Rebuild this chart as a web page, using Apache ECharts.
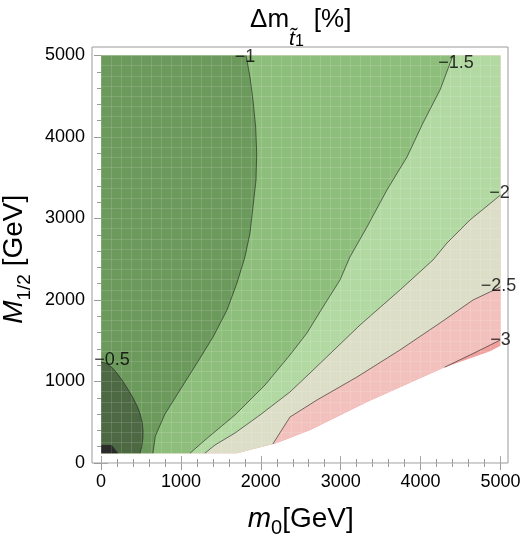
<!DOCTYPE html>
<html>
<head>
<meta charset="utf-8">
<script src="https://cdn.jsdelivr.net/npm/echarts@6/dist/echarts.min.js"></script>
<style>
  html, body { margin: 0; padding: 0; background: #fff; }
  #main { width: 521px; height: 536px; }
</style>
</head>
<body>
<div id="main"></div>
<script>
// edge of the allowed region (the lower right corner has no points)
const edgeX = [0, 1700, 2200, 2620, 3330, 4280, 4870, 5000];
const edgeY = [120, 120, 245, 405, 748, 1166, 1370, 1440];

// contour lines, each one runs from the frame edge down to the region edge
const c3X = [5000, 4650, 4300];
const c3Y = [1510, 1340, 1175];
const c25X = [5000, 4656, 4243, 3742, 3204, 2703, 2365, 2150];
const c25Y = [2160, 2000, 1718, 1387, 1055, 773, 564, 232];
const c2X = [5000, 4618, 4330, 4155, 3742, 3242, 2616, 2365, 1990, 1677, 1427, 1300];
const c2Y = [3288, 2982, 2699, 2491, 2123, 1693, 1104, 871, 589, 368, 221, 120];
const c15X = [4405, 4243, 4030, 3830, 3579, 3329, 3116, 2991, 2778, 2578, 2365, 2053, 1677, 1302, 1114];
const c15Y = [5000, 4577, 4172, 3755, 3350, 2896, 2528, 2245, 1914, 1595, 1325, 957, 589, 282, 120];
const c1X = [1815, 1865, 1902, 1936, 1949, 1940, 1902, 1865, 1802, 1702, 1577, 1402, 1202, 989, 800, 680, 650];
const c1Y = [5000, 4736, 4454, 4123, 3804, 3472, 3141, 2822, 2528, 2209, 1877, 1546, 1227, 896, 600, 330, 120];
const c05X = [0, 60, 138, 210, 275, 340, 400, 451, 490, 515, 526, 524, 510, 490];
const c05Y = [1239, 1225, 1172, 1090, 1000, 900, 800, 700, 600, 500, 400, 300, 200, 120];
const c0X = [0, 134, 216];
const c0Y = [221, 221, 120];

const levelNames = ['−3', '−2.5', '−2', '−1.5', '−1', '−0.5', ''];
const contoursX = [c3X, c25X, c2X, c15X, c1X, c05X, c0X];
const contoursY = [c3Y, c25Y, c2Y, c15Y, c1Y, c05Y, c0Y];
// fill of the band below each contour, plus the top band
const bandColors = ['#f1a19d', '#f2c1bd', '#dcdec7', '#b3d9a3', '#8ebe7b', '#6c995c', '#4d6944', '#2b2b2b'];

const X_MAX = 5000, Y_MAX = 5000;

function zip(xs, ys) { return xs.map((x, i) => [x, ys[i]]); }

// polygon of the part of the region that lies above/left of a contour
function bandAbove(xs, ys) {
  const pts = [[0, Y_MAX]];
  if (xs[0] === X_MAX) pts.push([X_MAX, Y_MAX]);
  zip(xs, ys).forEach(p => pts.push(p));
  const endX = xs[xs.length - 1];
  for (let i = edgeX.length - 1; i >= 0; i--) {
    if (edgeX[i] < endX) pts.push([edgeX[i], edgeY[i]]);
  }
  pts.push([0, edgeY[0]]);
  return pts;
}

const whole = [[0, Y_MAX], [X_MAX, Y_MAX]];
for (let i = edgeX.length - 1; i >= 0; i--) whole.push([edgeX[i], edgeY[i]]);
const polygons = [whole].concat(contoursX.map((xs, k) => bandAbove(xs, contoursY[k])));

const FONT = 'Liberation Sans';
const tickStyle = { color: '#9a9a9a', width: 1 };
const meshStyle = { color: 'rgba(255,255,255,0.13)', width: 1 };

const chart = echarts.init(document.getElementById('main'), null, { renderer: 'canvas' });

const axisCommon = {
  min: 0, max: 5000, interval: 1000,
  axisLine: { show: false },
  axisTick: { show: true, inside: true, length: 7, lineStyle: tickStyle },
  minorTick: { show: true, splitNumber: 5, length: 4, lineStyle: tickStyle },
  splitLine: { show: false },
  axisLabel: { show: false }
};

// faint plot mesh drawn over the fills
const meshAxis = {
  type: 'value', gridIndex: 0, min: 0, max: 5000, interval: 125,
  z: 3, silent: true,
  axisLine: { show: false }, axisTick: { show: false }, axisLabel: { show: false },
  splitLine: { show: true, lineStyle: meshStyle }
};

const lineSeries = contoursX.slice(0, 6).map((xs, k) => ({
  type: 'line',
  data: zip(xs, contoursY[k]),
  showSymbol: false,
  symbol: 'none',
  lineStyle: { color: 'rgba(30,30,30,0.6)', width: 1 },
  z: 5,
  silent: true
}));

const labelShift = [[0, 0], [-2, -1], [-1, -2], [3, 8], [-1, 2], [11, -2]];
const labelSeries = {
  type: 'scatter',
  symbolSize: 0,
  z: 6,
  silent: true,
  data: contoursX.slice(0, 6).map((xs, k) => ({
    value: [xs[0], contoursY[k][0]],
    label: { formatter: levelNames[k], offset: labelShift[k] }
  })),
  label: {
    show: true, position: 'inside',
    color: '#000', fontSize: 18, fontFamily: FONT
  }
};

const plainNum = v => String(v);

chart.setOption({
  backgroundColor: '#fff',
  animation: false,
  grid: [
    { left: 101, right: 20.5, top: 55.5, bottom: 73, show: false, outerBoundsMode: 'none', containLabel: false },
    { left: 92, right: 13, top: 47, bottom: 73, show: true, borderColor: '#9a9a9a', borderWidth: 1, backgroundColor: 'transparent', outerBoundsMode: 'none' }
  ],
  xAxis: [
    Object.assign({}, axisCommon, {
      type: 'value', gridIndex: 0, position: 'bottom',
      axisLabel: { show: true, color: '#000', fontSize: 18, fontFamily: FONT, margin: 10, formatter: plainNum },
      name: '{i|m}{s|0}{a|[GeV]}',
      nameLocation: 'middle', nameGap: 45,
      nameTextStyle: {
        rich: {
          i: { fontSize: 28, fontStyle: 'italic', fontFamily: FONT, color: '#000', lineHeight: 30, padding: [0, 0, 5, 0], verticalAlign: 'bottom' },
          s: { fontSize: 20, fontFamily: FONT, color: '#000', lineHeight: 22, verticalAlign: 'bottom' },
          a: { fontSize: 28, fontFamily: FONT, color: '#000', lineHeight: 30, padding: [0, 0, 5, 0], verticalAlign: 'bottom' }
        }
      }
    }),
    Object.assign({}, axisCommon, {
      type: 'value', gridIndex: 0, position: 'top', offset: 8.5,
      name: '{a|Δm}{t|t\u0303}{n|1}{b|[%]}',
      nameLocation: 'middle', nameGap: -3,
      nameTextStyle: {
        rich: {
          a: { fontSize: 26, fontFamily: FONT, color: '#000', lineHeight: 30, padding: [0, 0, 17, 0], verticalAlign: 'bottom' },
          b: { fontSize: 26, fontFamily: FONT, color: '#000', lineHeight: 30, padding: [0, 0, 17, 10], verticalAlign: 'bottom' },
          t: { fontSize: 21, fontStyle: 'italic', fontFamily: FONT, color: '#000', lineHeight: 22, verticalAlign: 'bottom' },
          n: { fontSize: 16, fontFamily: FONT, color: '#000', lineHeight: 20, verticalAlign: 'bottom' }
        }
      }
    }),
    { type: 'value', gridIndex: 1, show: false, min: 0, max: 1 },
    Object.assign({}, meshAxis, { position: 'bottom' })
  ],
  yAxis: [
    Object.assign({}, axisCommon, {
      type: 'value', gridIndex: 0, position: 'left', offset: 9,
      axisLabel: { show: true, color: '#000', fontSize: 18, fontFamily: FONT, margin: 7, formatter: plainNum },
      name: '{i|M}{s|1/2}{a| [GeV]}',
      nameLocation: 'middle', nameGap: 54, nameRotate: 90,
      nameTextStyle: {
        rich: {
          i: { fontSize: 28, fontStyle: 'italic', fontFamily: FONT, color: '#000', lineHeight: 30, padding: [0, 0, 6, 0], verticalAlign: 'bottom' },
          s: { fontSize: 19, fontFamily: FONT, color: '#000', lineHeight: 22, verticalAlign: 'bottom' },
          a: { fontSize: 28, fontFamily: FONT, color: '#000', lineHeight: 30, padding: [0, 0, 6, 0], verticalAlign: 'bottom' }
        }
      }
    }),
    Object.assign({}, axisCommon, {
      type: 'value', gridIndex: 0, position: 'right', offset: 8
    }),
    { type: 'value', gridIndex: 1, show: false, min: 0, max: 1 },
    Object.assign({}, meshAxis, { position: 'left' })
  ],
  series: [
    {
      type: 'custom',
      xAxisIndex: 0, yAxisIndex: 0,
      coordinateSystem: 'cartesian2d',
      data: polygons.map((p, i) => [i]),
      silent: true,
      z: 2,
      renderItem: function (params, api) {
        const i = params.dataIndex;
        const pts = polygons[i].map(p => api.coord(p));
        return {
          type: 'polygon',
          shape: { points: pts },
          style: { fill: bandColors[i], lineWidth: 0 }
        };
      }
    }
  ].concat(lineSeries, [labelSeries])
});
</script>
</body>
</html>
